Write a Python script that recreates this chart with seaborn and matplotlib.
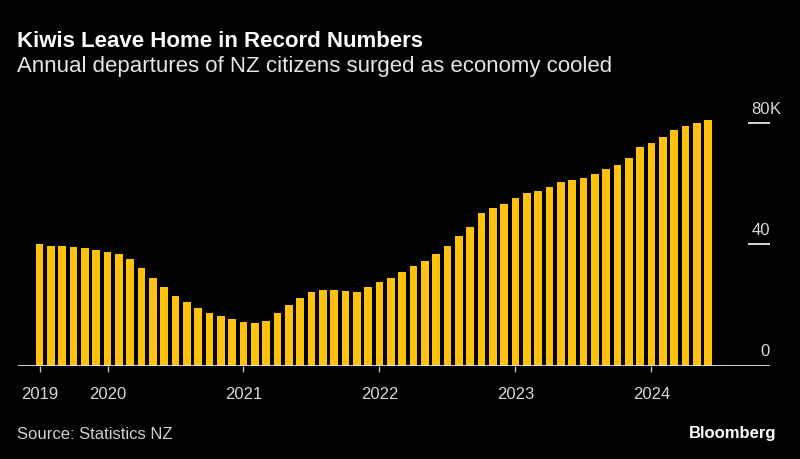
import matplotlib
matplotlib.use('Agg')
import matplotlib.pyplot as plt
import matplotlib.transforms as mtransforms
import seaborn as sns
import pandas as pd

# ---- data ----
months = pd.date_range('2019-07-01', '2024-06-01', freq='MS').strftime('%Y-%m').tolist()
departures_k = [40.2, 39.6, 39.4, 39.1, 38.7, 38.1, 37.6, 36.9, 35.2, 32.1,
                28.9, 25.9, 23.1, 21.1, 18.9, 17.3, 16.3, 15.3, 14.4, 14.2,
                14.9, 17.4, 19.9, 22.2, 24.3, 25.0, 25.0, 24.6, 24.4, 26.0,
                27.5, 29.0, 31.0, 32.9, 34.7, 36.9, 39.5, 42.9, 45.9, 50.4,
                52.0, 53.4, 55.2, 56.9, 57.8, 58.9, 60.5, 61.4, 62.0, 63.4,
                64.9, 66.3, 68.6, 72.1, 73.6, 75.4, 77.7, 79.0, 80.1, 81.1]
year_tick_months = ['2019-07', '2020-01', '2021-01', '2022-01', '2023-01', '2024-01']
year_labels = ['2019', '2020', '2021', '2022', '2023', '2024']
y_ticks = [0, 40, 80]
y_labels = ['0', '40', '80']

title = 'Kiwis Leave Home in Record Numbers'
subtitle = 'Annual departures of NZ citizens surged as economy cooled'
source = 'Source: Statistics NZ'

df = pd.DataFrame({'month': months, 'departures': departures_k})

# ---- style ----
sns.set_theme(style='dark')
plt.rcParams['font.family'] = ['Liberation Sans', 'DejaVu Sans']
BG = '#000000'
BAR = '#FDC10E'

fig = plt.figure(figsize=(8, 4.6), dpi=100, facecolor=BG)
ax = fig.add_axes([0.0225, 0.2029, 0.94, 0.5664])
ax.set_facecolor(BG)

sns.barplot(data=df, x='month', y='departures', order=months, color=BAR,
            width=0.68, edgecolor='none', saturation=1, ax=ax)

ax.set_xlim(-1.9, 64.47)
ax.set_ylim(0, 86)
for s in ax.spines.values():
    s.set_visible(False)
ax.grid(False)
ax.set_xlabel('')
ax.set_ylabel('')
ax.set_yticks([])

tick_pos = [months.index(m) for m in year_tick_months]
ax.set_xticks(tick_pos)
ax.set_xticklabels(year_labels)
ax.tick_params(axis='x', length=4.3, width=1, color='#bfbfbf', pad=10,
               labelsize=12, labelcolor='#d9d9d9', bottom=True)

# baseline and short grid marks
ax.axhline(0, color='#e6e6e6', lw=1.3, zorder=5)
blend = mtransforms.blended_transform_factory(ax.transAxes, ax.transData)
for v in y_ticks[1:]:
    ax.plot([0.9707, 1.0], [v, v], transform=blend, color='#e6e6e6', lw=1.3,
            solid_capstyle='butt', clip_on=False)

lab_tr = mtransforms.offset_copy(blend, fig=fig, y=10.7, units='dots')
for v, lab in zip(y_ticks, y_labels):
    ax.text(1.0, v, lab, transform=lab_tr, ha='right', va='baseline',
            fontsize=12, color='#d9d9d9', clip_on=False)
ax.text(1.0, y_ticks[-1], 'K', transform=lab_tr, ha='left', va='baseline',
        fontsize=12, color='#d9d9d9', clip_on=False)

# ---- texts ----
fig.text(17 / 800, 1 - 47 / 460, title, ha='left', va='baseline',
         fontsize=16, fontweight='bold', color='white')
fig.text(17 / 800, 1 - 72 / 460, subtitle, ha='left', va='baseline',
         fontsize=16, color='#e6e6e6')
fig.text(17 / 800, 1 - 439 / 460, source, ha='left', va='baseline',
         fontsize=12, color='#d0d0d0')
fig.text(776 / 800, 1 - 438 / 460, 'Bloomberg', ha='right', va='baseline',
         fontsize=12, fontweight='bold', color='white')

fig.savefig('out.png', dpi=100, facecolor=BG)
